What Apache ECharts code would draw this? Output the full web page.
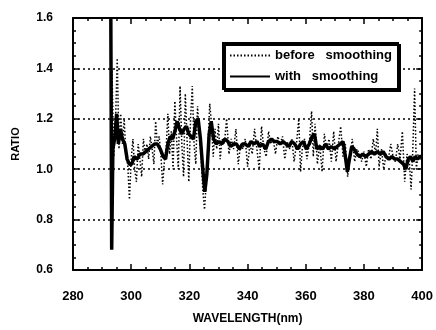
<!DOCTYPE html>
<html>
<head>
<meta charset="utf-8">
<script src="https://cdn.jsdelivr.net/npm/echarts@6/dist/echarts.min.js"></script>
<style>
html, body {margin: 0; padding: 0; background: #fff;}
#main {width: 436px; height: 330px;}
</style>
</head>
<body>
<div id="main"></div>
<script>
// before smoothing (raw ratio)
var rawWave = [293.0, 293.4, 294.0, 294.6, 295.2, 295.8, 296.4, 297.0, 297.6, 298.2, 298.8, 299.4,
    300.0, 300.6, 301.2, 301.8, 302.4, 303.0, 303.6, 304.2, 304.8, 305.4, 306.0, 306.6, 307.2, 307.8,
    308.4, 309.0, 309.6, 310.2, 310.8, 311.4, 312.0, 312.6, 313.2, 313.8, 314.4, 315.0, 315.6, 316.2,
    316.8, 317.4, 318.0, 318.6, 319.2, 319.8, 320.4, 321.0, 321.6, 322.2, 322.8, 323.4, 324.0, 324.6,
    325.2, 325.8, 326.4, 327.0, 327.6, 328.2, 328.8, 329.4, 330.0, 330.6, 331.2, 332.0, 332.8, 333.6,
    334.4, 335.2, 336.0, 336.8, 337.6, 338.4, 339.2, 340.0, 340.8, 341.6, 342.4, 343.2, 344.0, 344.8,
    345.6, 346.4, 347.2, 348.0, 348.8, 349.6, 350.4, 351.2, 352.0, 352.8, 353.6, 354.4, 355.2, 356.0,
    356.8, 357.6, 358.2, 358.8, 359.6, 360.4, 361.2, 362.0, 362.6, 363.2, 364.0, 364.8, 365.6, 366.4,
    367.2, 368.0, 368.8, 369.6, 370.4, 371.2, 372.0, 372.8, 373.6, 374.4, 375.2, 376.0, 376.8, 377.6,
    378.4, 379.2, 380.0, 380.8, 381.6, 382.4, 383.2, 384.0, 384.6, 385.2, 386.0, 386.8, 387.6, 388.4,
    389.2, 390.0, 390.8, 391.6, 392.4, 393.2, 394.0, 394.8, 395.6, 396.2, 396.8, 397.4, 398.0, 398.6,
    399.2, 400.0];
var rawRatio = [0.70, 1.40, 1.05, 1.18, 1.44, 1.08, 1.22, 1.10, 1.20, 1.05, 1.02, 0.88,
    1.04, 1.12, 1.00, 0.95, 1.10, 1.04, 0.97, 1.12, 1.06, 1.10, 1.04, 1.13, 1.08, 1.02,
    1.19, 1.10, 1.13, 1.06, 0.94, 1.03, 1.08, 1.22, 1.06, 1.15, 1.00, 1.27, 1.12, 1.00,
    1.33, 1.10, 0.97, 1.30, 1.12, 0.95, 1.20, 1.33, 1.10, 1.02, 1.25, 1.15, 1.05, 0.92,
    0.84, 0.95, 1.10, 1.26, 1.18, 1.05, 1.16, 1.08, 1.18, 1.04, 1.12, 1.10, 1.20, 1.06,
    1.12, 1.08, 1.16, 1.02, 1.10, 1.08, 1.12, 1.01, 1.10, 1.06, 1.16, 1.08, 1.00, 1.17,
    1.08, 1.05, 1.15, 1.10, 1.12, 1.06, 1.13, 1.10, 1.13, 1.04, 1.11, 1.08, 1.12, 1.03,
    1.10, 1.20, 0.99, 1.08, 1.12, 1.04, 1.10, 1.23, 1.05, 1.18, 1.02, 1.10, 0.99, 1.14,
    1.08, 1.12, 1.03, 1.15, 1.03, 1.10, 1.17, 1.05, 1.10, 0.97, 1.06, 1.12, 1.03, 1.08,
    1.06, 1.03, 1.07, 1.01, 1.08, 1.04, 1.12, 1.06, 1.16, 1.01, 1.08, 1.00, 1.06, 1.04,
    1.10, 1.05, 1.03, 1.10, 1.04, 1.15, 0.95, 1.06, 1.03, 0.92, 1.08, 1.32, 1.00, 1.06,
    1.04, 1.05];

// with smoothing
var smoothWave = [293.0, 293.3, 293.7, 294.3, 295.0, 295.6, 296.3, 297.0, 297.8, 298.6, 299.4,
    300.2, 301.0, 302.0, 303.0, 304.0, 305.0, 306.0, 307.0, 308.0, 309.0, 310.0, 311.0, 311.8,
    312.6, 313.4, 314.2, 315.0, 315.8, 316.6, 317.4, 318.2, 319.0, 319.8, 320.6, 321.4, 322.2,
    323.0, 323.8, 324.6, 325.3, 326.0, 326.8, 327.5, 328.3, 329.2, 330.2, 331.2, 332.2, 333.2,
    334.2, 335.2, 336.2, 337.2, 338.2, 339.2, 340.2, 341.2, 342.2, 343.2, 344.2, 345.2, 346.2,
    347.2, 348.2, 349.2, 350.2, 351.2, 352.2, 353.2, 354.2, 355.2, 356.2, 357.2, 358.2, 359.2,
    360.2, 361.2, 362.2, 363.0, 363.8, 364.8, 365.8, 366.8, 367.8, 368.8, 369.8, 370.8, 371.8,
    372.8, 373.6, 374.3, 375.0, 375.8, 376.6, 377.6, 378.6, 379.6, 380.6, 381.6, 382.6, 383.6,
    384.6, 385.6, 386.6, 387.6, 388.6, 389.6, 390.6, 391.6, 392.6, 393.6, 394.4, 395.2, 396.0,
    396.8, 397.6, 398.4, 399.2, 400.0];
var smoothRatio = [1.60, 0.68, 1.08, 1.12, 1.22, 1.10, 1.16, 1.12, 1.10, 1.04, 1.02,
    1.02, 1.05, 1.04, 1.06, 1.06, 1.07, 1.08, 1.09, 1.10, 1.10, 1.08, 1.05, 1.04,
    1.10, 1.13, 1.12, 1.15, 1.19, 1.16, 1.14, 1.16, 1.17, 1.14, 1.13, 1.12, 1.19,
    1.20, 1.12, 1.00, 0.91, 0.98, 1.14, 1.19, 1.12, 1.10, 1.11, 1.10, 1.12, 1.11,
    1.09, 1.10, 1.10, 1.08, 1.10, 1.10, 1.09, 1.11, 1.10, 1.11, 1.09, 1.10, 1.08,
    1.11, 1.12, 1.11, 1.11, 1.10, 1.11, 1.10, 1.09, 1.11, 1.10, 1.08, 1.10, 1.11,
    1.08, 1.10, 1.13, 1.14, 1.08, 1.09, 1.08, 1.10, 1.08, 1.09, 1.08, 1.09, 1.10,
    1.11, 1.05, 0.99, 1.04, 1.09, 1.08, 1.06, 1.05, 1.06, 1.05, 1.06, 1.07, 1.06,
    1.07, 1.06, 1.07, 1.05, 1.04, 1.05, 1.04, 1.04, 1.03, 1.02, 1.00, 1.04, 1.05,
    1.03, 1.05, 1.04, 1.05, 1.05];

var xTicks = [280, 300, 320, 340, 360, 380, 400];

function pairs(xs, ys) {
    var out = [];
    for (var i = 0; i < xs.length; i++) {
        out.push([xs[i], ys[i]]);
    }
    return out;
}

var chart = echarts.init(document.getElementById('main'));
var font = 'Liberation Sans, Arial, sans-serif';

var frameLine = {lineStyle: {color: '#000', width: 2}};
var tickIn = {inside: true, length: 6, lineStyle: {color: '#000', width: 1.5}};
var minorIn = {show: true, splitNumber: 4, length: 3, lineStyle: {color: '#000', width: 1.5}};

chart.setOption({
    animation: false,
    backgroundColor: '#fff',
    color: ['#000', '#000'],
    grid: {left: 73, right: 12, top: 18, bottom: 51},
    legend: {
        orient: 'vertical',
        left: 223,
        top: 43,
        backgroundColor: '#fff',
        borderColor: '#000',
        borderWidth: 2,
        shadowColor: '#000',
        shadowOffsetX: 2,
        shadowOffsetY: 2,
        shadowBlur: 0,
        padding: [6, 6, 6, 6],
        itemWidth: 40,
        itemHeight: 10,
        itemGap: 8,
        itemStyle: {opacity: 0},
        formatter: function (name) { return name.replace(' ', '   '); },
        textStyle: {color: '#000', fontFamily: font, fontWeight: 'bold', fontSize: 13}
    },
    xAxis: [{
        type: 'value',
        min: 280, max: 400, interval: 20,
        position: 'bottom',
        axisLine: frameLine,
        axisTick: tickIn,
        minorTick: minorIn,
        splitLine: {show: false},
        axisLabel: {
            margin: 20, color: '#000', fontFamily: font, fontWeight: 'bold', fontSize: 13,
            formatter: function (v) { return xTicks.indexOf(v) >= 0 ? String(v) : ''; }
        },
        name: 'WAVELENGTH(nm)',
        nameLocation: 'middle',
        nameGap: 43,
        nameTextStyle: {color: '#000', fontFamily: font, fontWeight: 'bold', fontSize: 12}
    }, {
        type: 'value',
        min: 280, max: 400, interval: 20,
        position: 'top',
        axisLine: frameLine,
        axisTick: tickIn,
        minorTick: minorIn,
        splitLine: {show: false},
        axisLabel: {show: false}
    }],
    yAxis: [{
        type: 'value',
        min: 0.6, max: 1.6, interval: 0.2,
        position: 'left',
        axisLine: {show: true, lineStyle: {color: '#000', width: 2}},
        axisTick: tickIn,
        minorTick: minorIn,
        splitLine: {show: true, lineStyle: {color: '#000', width: 1.5, type: [2, 3]}},
        axisLabel: {
            margin: 20, color: '#000', fontFamily: font, fontWeight: 'bold', fontSize: 12,
            formatter: function (v) { return v.toFixed(1); }
        },
        name: 'RATIO',
        nameLocation: 'middle',
        nameGap: 52,
        nameTextStyle: {color: '#000', fontFamily: font, fontWeight: 'bold', fontSize: 11}
    }, {
        type: 'value',
        min: 0.6, max: 1.6, interval: 0.2,
        position: 'right',
        axisLine: {show: true, lineStyle: {color: '#000', width: 2}},
        axisTick: tickIn,
        minorTick: minorIn,
        splitLine: {show: false},
        axisLabel: {show: false}
    }],
    series: [{
        name: 'before smoothing',
        type: 'line',
        symbol: 'none',
        xAxisIndex: 0,
        yAxisIndex: 0,
        data: pairs(rawWave, rawRatio),
        itemStyle: {color: '#000'},
        lineStyle: {color: '#000', width: 1.5, type: [1.5, 2]},
        z: 2
    }, {
        name: 'with smoothing',
        type: 'line',
        symbol: 'none',
        xAxisIndex: 0,
        yAxisIndex: 0,
        data: pairs(smoothWave, smoothRatio),
        itemStyle: {color: '#000'},
        lineStyle: {color: '#000', width: 3.5},
        z: 3
    }]
});
</script>
</body>
</html>
